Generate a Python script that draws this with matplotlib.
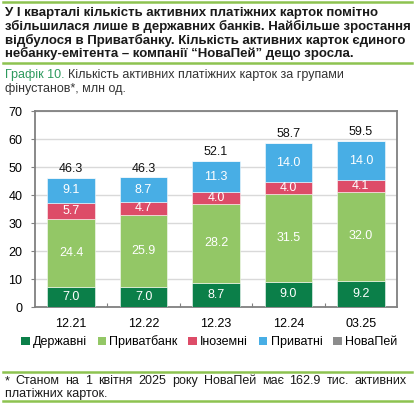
import matplotlib
matplotlib.use("Agg")
import matplotlib.pyplot as plt
from matplotlib.patches import Patch
import numpy as np

plt.rcParams['font.family'] = ['Liberation Sans', 'DejaVu Sans']

categories = ["12.21", "12.22", "12.23", "12.24", "03.25"]
state = [7.0, 7.0, 8.7, 9.0, 9.2]
privatbank = [24.4, 25.9, 28.2, 31.5, 32.0]
foreign = [5.7, 4.7, 4.0, 4.0, 4.1]
private = [9.1, 8.7, 11.3, 14.0, 14.0]
novapay = [0.0, 0.0, 0.0, 0.0, 0.16]
totals = [46.3, 46.3, 52.1, 58.7, 59.5]
series_names = ["Державні", "Приватбанк", "Іноземні", "Приватні", "НоваПей"]
yticks = [0, 10, 20, 30, 40, 50, 60, 70]

colors = ["#0B7F49", "#93C766", "#DD4C68", "#48AEE5", "#8C8C8C"]

W, H = 420, 412
fig = plt.figure(figsize=(W / 100, H / 100), dpi=100)

def fx(px):
    return px / W

def fy(py):
    return 1 - py / H

FS = 9.0
green_line = "#8DC350"
for y in (2, 63, 372, 401):
    fig.add_artist(plt.Line2D([fx(3), fx(412)], [fy(y), fy(y)], color=green_line, lw=1.8))

header = ["У І кварталі кількість активних платіжних карток помітно",
          "збільшилася лише в державних банків. Найбільше зростання",
          "відбулося в Приватбанку. Кількість активних карток єдиного",
          "небанку-емітента – компанії “НоваПей” дещо зросла."]
for i, line in enumerate(header):
    fig.text(fx(5), fy(13 + i * 13.5), line, fontsize=9.5, fontweight='bold',
             va='center', ha='left', color='#1a1a1a')

t1 = fig.text(fx(5), fy(75), "Графік 10.", fontsize=FS, va='center', ha='left', color='#2E9A5E')
fig.canvas.draw()
bb = t1.get_window_extent()
fig.text(bb.x1 / W + fx(3), fy(75), "Кількість активних платіжних карток за групами",
         fontsize=FS, va='center', ha='left', color='#333333')
fig.text(fx(5), fy(89), "фінустанов*, млн од.", fontsize=FS, va='center', ha='left', color='#333333')

ax = fig.add_axes([fx(35), fy(307), fx(397) - fx(35), fy(111) - fy(307)])
x = np.arange(len(categories))
bottom = np.zeros(len(categories))
series = [state, privatbank, foreign, private, novapay]
for vals, col, name in zip(series, colors, series_names):
    vals = np.array(vals)
    ax.bar(x, vals, width=0.66, bottom=bottom, color=col, label=name,
           edgecolor=(1, 1, 1, 0.6), linewidth=0.6, zorder=3)
    if name != "НоваПей":
        for xi, b, v in zip(x, bottom, vals):
            ax.text(xi, b + v / 2, f"{v:.1f}", ha='center', va='center',
                    color='white', fontsize=FS, zorder=4)
    bottom += vals

for xi, t, b in zip(x, totals, bottom):
    ax.text(xi, b + 1.0, f"{t:.1f}", ha='center', va='bottom', fontsize=FS, color='#111111')

ax.set_xlim(-0.5, len(categories) - 0.5)
ax.set_ylim(0, 70)
ax.set_yticks(yticks)
ax.set_yticklabels([str(v) for v in yticks], fontsize=FS)
ax.set_xticks(x)
ax.set_xticklabels(categories, fontsize=FS)
ax.tick_params(axis='x', length=0, pad=8)
ax.tick_params(axis='y', length=3, width=0.8, color='#808080', pad=6, direction='out')
ax.set_xticks(np.arange(0.5, len(categories) - 0.5, 1), minor=True)
ax.tick_params(axis='x', which='minor', length=3, direction='in', color='#808080', width=0.8)
ax.grid(axis='y', color='#D9D9D9', lw=1.0, zorder=0)
for s in ax.spines.values():
    s.set_color('#808080')
    s.set_linewidth(1.3)

handles = [Patch(facecolor=c, edgecolor='none') for c in colors]
fig.legend(handles, series_names, loc='center', bbox_to_anchor=(fx(209), fy(342)),
           ncol=5, frameon=False, fontsize=FS, handlelength=0.7, handleheight=0.7,
           handletextpad=0.25, columnspacing=0.85)

words = "* Станом на 1 квітня 2025 року НоваПей має 162.9 тис. активних".split(" ")
left_px, right_px = 5, 407
txts = []
for w in words:
    txts.append(fig.text(0, fy(381), w, fontsize=FS, va='center', ha='left', color='#1a1a1a'))
fig.canvas.draw()
widths = [t.get_window_extent().width for t in txts]
gap = (right_px - left_px - sum(widths)) / (len(words) - 1)
pos = left_px
for t, wdt in zip(txts, widths):
    t.set_x(fx(pos))
    pos += wdt + gap
fig.text(fx(5), fy(394), "платіжних карток.", fontsize=FS, va='center', ha='left', color='#1a1a1a')

fig.savefig("out.png", dpi=100)
